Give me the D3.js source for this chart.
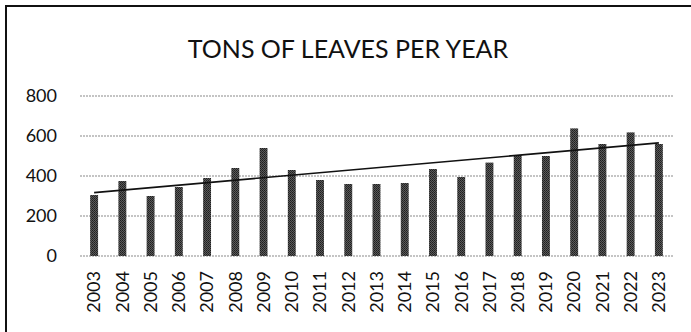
<!DOCTYPE html>
<html>
<head>
<meta charset="utf-8">
<script src="https://cdn.jsdelivr.net/npm/d3@7"></script>
<style>
  body { margin: 0; background: #fff; }
  svg { display: block; font-family: Lato, "Open Sans", sans-serif; }
</style>
</head>
<body>
<div id="chart"></div>
<script>
// Data
const years = ["2003","2004","2005","2006","2007","2008","2009","2010","2011","2012","2013",
               "2014","2015","2016","2017","2018","2019","2020","2021","2022","2023"];
const tons = [305, 375, 300, 345, 390, 440, 540, 430, 380, 360, 360,
              365, 435, 395, 467, 505, 500, 638, 560, 618, 560];
const yTicks = [0, 200, 400, 600, 800];
const title = "TONS OF LEAVES PER YEAR";

const width = 691, height = 332;
const margin = {top: 96, right: 18, bottom: 76, left: 80};

const svg = d3.select("#chart")
    .append("svg")
    .attr("width", width)
    .attr("height", height);

// stippled fill like the scanned bars
const defs = svg.append("defs");
const pat = defs.append("pattern")
    .attr("id", "stipple")
    .attr("width", 2).attr("height", 2)
    .attr("patternUnits", "userSpaceOnUse");
pat.append("rect").attr("width", 2).attr("height", 2).attr("fill", "#5a5a5a");
pat.append("rect").attr("width", 1).attr("height", 1).attr("fill", "#1e1e1e");
pat.append("rect").attr("x", 1).attr("y", 1).attr("width", 1).attr("height", 1).attr("fill", "#2a2a2a");

// chart frame (right and bottom edges are cut off in the scan)
svg.append("rect")
    .attr("x", 6).attr("y", 6)
    .attr("width", 700).attr("height", 330)
    .attr("fill", "none")
    .attr("stroke", "#111")
    .attr("stroke-width", 2);

svg.append("text")
    .attr("x", 348)
    .attr("y", 58)
    .attr("text-anchor", "middle")
    .style("font-size", "25px")
    .style("fill", "#111")
    .text(title);

const x = d3.scaleBand()
    .domain(years)
    .range([margin.left, width - margin.right])
    .paddingInner(0.72)
    .paddingOuter(0.36);

const y = d3.scaleLinear()
    .domain([0, 800])
    .range([height - margin.bottom, margin.top]);

// gridlines
svg.append("g")
    .selectAll("line")
    .data(yTicks)
    .enter()
    .append("line")
    .attr("x1", margin.left)
    .attr("x2", width - margin.right)
    .attr("y1", d => y(d))
    .attr("y2", d => y(d))
    .attr("stroke", "#8a8a8a")
    .attr("stroke-width", 1.2)
    .attr("stroke-dasharray", "2,1");

// y axis labels
const yAxis = svg.append("g")
    .attr("transform", "translate(" + (margin.left - 23) + ",0)")
    .call(d3.axisLeft(y).tickValues(yTicks).tickSize(0).tickPadding(0));
yAxis.select(".domain").remove();
yAxis.selectAll("text")
    .style("font-size", "18px")
    .style("font-family", "Lato, 'Open Sans', sans-serif")
    .style("fill", "#111");

// bars
svg.append("g")
    .selectAll("rect")
    .data(tons)
    .enter()
    .append("rect")
    .attr("x", (d, i) => x(years[i]))
    .attr("y", d => y(d))
    .attr("width", x.bandwidth())
    .attr("height", d => y(0) - y(d))
    .attr("fill", "url(#stipple)");

// x axis labels, rotated
const xAxis = svg.append("g")
    .attr("transform", "translate(0," + (y(0) + 15) + ")")
    .call(d3.axisBottom(x).tickSize(0).tickPadding(0));
xAxis.select(".domain").remove();
xAxis.selectAll("text")
    .attr("transform", "rotate(-90)")
    .attr("x", 0)
    .attr("y", 0)
    .attr("dy", "0.35em")
    .style("text-anchor", "end")
    .style("font-size", "18px")
    .style("font-family", "Lato, 'Open Sans', sans-serif")
    .style("fill", "#111");

// linear trendline (least squares over the bars)
const n = tons.length;
const xs = d3.range(n);
const mx = d3.mean(xs), my = d3.mean(tons);
const slope = d3.sum(xs, i => (i - mx) * (tons[i] - my)) / d3.sum(xs, i => (i - mx) * (i - mx));
const icpt = my - slope * mx;
const cx = i => x(years[i]) + x.bandwidth() / 2;

svg.append("line")
    .attr("x1", cx(0))
    .attr("y1", y(icpt))
    .attr("x2", cx(n - 1))
    .attr("y2", y(icpt + slope * (n - 1)))
    .attr("stroke", "#111")
    .attr("stroke-width", 1.6);
</script>
</body>
</html>
